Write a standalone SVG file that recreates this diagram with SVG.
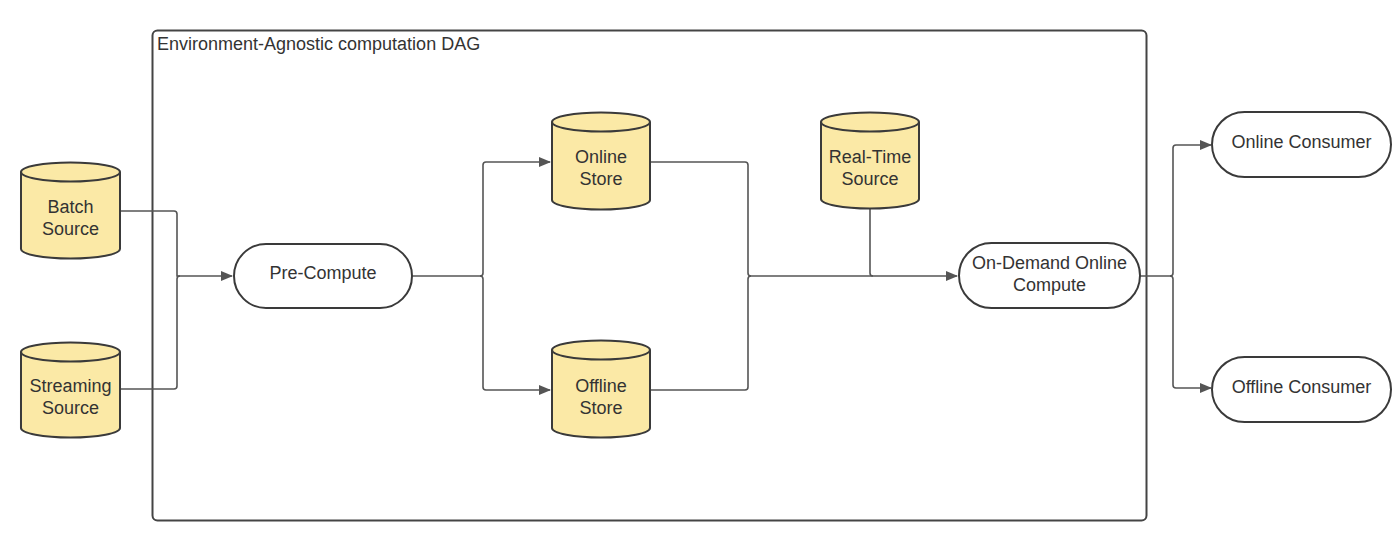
<svg xmlns="http://www.w3.org/2000/svg" width="1400" height="548" viewBox="0 0 1400 548">
<style>
.cyl{fill:#fbe9a6;stroke:#3a3a3a;stroke-width:2}
.cylt{fill:none;stroke:#3a3a3a;stroke-width:2}
.term{fill:#fff;stroke:#3a3a3a;stroke-width:2}
.lbl{font-family:"Liberation Sans",Arial,sans-serif;font-size:18px;fill:#333;text-anchor:middle}
.title{font-family:"Liberation Sans",Arial,sans-serif;font-size:18px;fill:#333}
.edge{fill:none;stroke:#555;stroke-width:1.6}
</style>
<defs>
<marker id="arr" markerWidth="12" markerHeight="10" refX="11" refY="5" orient="auto" markerUnits="userSpaceOnUse">
<path d="M0,0 L12,5 L0,10 Z" fill="#555"/>
</marker>
</defs>
<rect width="1400" height="548" fill="#fff"/>
<g id="container">
<rect x="152.5" y="30.5" width="994" height="490" rx="5" fill="none" stroke="#444" stroke-width="2"/>
<text class="title" x="157" y="50">Environment-Agnostic computation DAG</text>
</g>
<g id="connectors">
<path class="edge" d="M120,211 H174 Q177,211 177,214 V276 H232" marker-end="url(#arr)"/>
<path class="edge" d="M120,389 H174 Q177,389 177,386 V279 Q177,276 180,276"/>
<path class="edge" d="M412,276 H480 Q483,276 483,273 V165 Q483,162 486,162 H550" marker-end="url(#arr)"/>
<path class="edge" d="M480,276 Q483,276 483,279 V387 Q483,390 486,390 H550" marker-end="url(#arr)"/>
<path class="edge" d="M650,162 H745 Q748,162 748,165 V273 Q748,276 751,276 H957" marker-end="url(#arr)"/>
<path class="edge" d="M650,390 H745 Q748,390 748,387 V279 Q748,276 751,276"/>
<path class="edge" d="M870,208 V273 Q870,276 873,276"/>
<path class="edge" d="M1140,276 H1170 Q1173,276 1173,273 V148 Q1173,145 1176,145 H1211" marker-end="url(#arr)"/>
<path class="edge" d="M1170,276 Q1173,276 1173,279 V385 Q1173,388 1176,388 H1211" marker-end="url(#arr)"/>
</g>
<g id="batch-source">
<path class="cyl" d="M21,172 A49.5,9.5 0 0,1 120,172 V249 A49.5,9.5 0 0,1 21,249 Z"/>
<path class="cylt" d="M21,172 A49.5,9.5 0 0,0 120,172"/>
<text class="lbl" x="70.5" y="213">Batch</text>
<text class="lbl" x="70.5" y="235">Source</text>
</g>
<g id="streaming-source">
<path class="cyl" d="M21,352 A49.5,9.5 0 0,1 120,352 V428 A49.5,9.5 0 0,1 21,428 Z"/>
<path class="cylt" d="M21,352 A49.5,9.5 0 0,0 120,352"/>
<text class="lbl" x="70.5" y="392">Streaming</text>
<text class="lbl" x="70.5" y="414">Source</text>
</g>
<g id="pre-compute">
<rect class="term" x="234" y="244" width="178" height="64" rx="32"/>
<text class="lbl" x="323" y="279">Pre-Compute</text>
</g>
<g id="online-store">
<path class="cyl" d="M552,122 A49,9.5 0 0,1 650,122 V200 A49,9.5 0 0,1 552,200 Z"/>
<path class="cylt" d="M552,122 A49,9.5 0 0,0 650,122"/>
<text class="lbl" x="601" y="163">Online</text>
<text class="lbl" x="601" y="185">Store</text>
</g>
<g id="offline-store">
<path class="cyl" d="M552,350 A49,9.5 0 0,1 650,350 V428 A49,9.5 0 0,1 552,428 Z"/>
<path class="cylt" d="M552,350 A49,9.5 0 0,0 650,350"/>
<text class="lbl" x="601" y="392">Offline</text>
<text class="lbl" x="601" y="414">Store</text>
</g>
<g id="real-time-source">
<path class="cyl" d="M821,122 A49,9.5 0 0,1 919,122 V199 A49,9.5 0 0,1 821,199 Z"/>
<path class="cylt" d="M821,122 A49,9.5 0 0,0 919,122"/>
<text class="lbl" x="870" y="163">Real-Time</text>
<text class="lbl" x="870" y="185">Source</text>
</g>
<g id="on-demand">
<rect class="term" x="959" y="243" width="181" height="65" rx="32.5"/>
<text class="lbl" x="1049.5" y="269">On-Demand Online</text>
<text class="lbl" x="1049.5" y="291">Compute</text>
</g>
<g id="online-consumer">
<rect class="term" x="1212" y="112" width="179" height="65" rx="32.5"/>
<text class="lbl" x="1301.5" y="148">Online Consumer</text>
</g>
<g id="offline-consumer">
<rect class="term" x="1212" y="357" width="179" height="65" rx="32.5"/>
<text class="lbl" x="1301.5" y="393">Offline Consumer</text>
</g>
</svg>
